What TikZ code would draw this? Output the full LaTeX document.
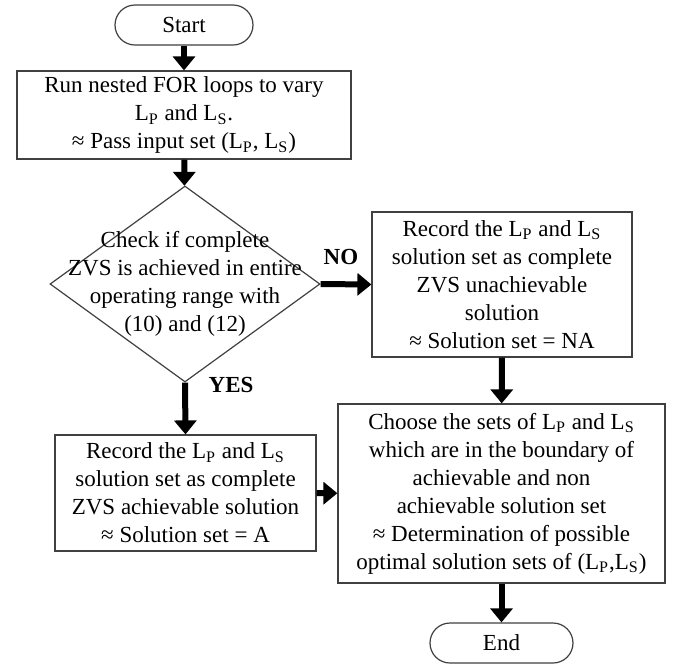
\documentclass[tikz,border=0pt]{standalone}
\usepackage{fontspec}
\setmainfont{Liberation Serif}[Ligatures=TeX]
\usetikzlibrary{arrows.meta,shapes.geometric}
\newcommand{\LP}{L\textsubscript{P}}
\newcommand{\LS}{L\textsubscript{S}}
\begin{document}
\begin{tikzpicture}[x=0.5pt,y=-0.5pt,
  every node/.style={font=\fontsize{11.5}{14}\selectfont},
  box/.style={draw=black!75,line width=0.6pt,fill=white,align=center,inner sep=0pt},
  term/.style={box,rounded corners=10pt,minimum height=20pt},
  pfeil/.style={line width=3pt,-{Triangle[length=7pt,width=11pt]}}]
  \useasboundingbox (0,0) rectangle (676,666);
  % Start
  \node[term,minimum width=69pt] (start) at (184,25) {Start};
  % Schleife
  \node[box,minimum width=167pt,minimum height=44pt] (loop) at (184,115)
    {Run nested FOR loops to vary\\ \LP{} and \LS.\\ ≈ Pass input set (\LP, \LS)};
  % Abfrage
  \node[draw=black!75,line width=0.6pt,diamond,minimum width=135pt,minimum height=98pt,inner sep=0pt] (check) at (185,284) {};
  \node[align=center] (checktxt) at (check.center)
    {Check if complete\\ ZVS is achieved in entire\\ operating range with\\ (10) and (12)};
  % nicht erreichbar
  \node[box,minimum width=130pt,minimum height=72.5pt] (na) at (502,284.5)
    {Record the \LP{} and \LS\\ solution set as complete\\ ZVS unachievable\\ solution\\ ≈ Solution set = NA};
  % erreichbar
  \node[box,minimum width=130.5pt,minimum height=58pt] (ok) at (185.5,493)
    {Record the \LP{} and \LS\\ solution set as complete\\ ZVS achievable solution\\ ≈ Solution set = A};
  % Auswahl
  \node[box,minimum width=163.5pt,minimum height=89.5pt] (pick) at (501.5,493.5)
    {Choose the sets of \LP{} and \LS\\ which are in the boundary of\\ achievable and non\\ achievable solution set\\ ≈ Determination of possible\\ optimal solution sets of (\LP,\LS)};
  % Ende
  \node[term,minimum width=71.5pt] (end) at (501.5,643) {End};
  % Pfeile
  \draw[pfeil] (start) -- (loop);
  \draw[pfeil] (loop) -- (check);
  \draw[pfeil] (check.east) -- (na.west) node[pos=0.4,above=5pt] {\textbf{NO}};
  \draw[pfeil] (check.south) -- (ok.north) node[pos=0.05,right=7pt] {\textbf{YES}};
  \draw[pfeil] (na) -- (pick);
  \draw[pfeil] (ok) -- (pick);
  \draw[pfeil] (pick) -- (end);
\end{tikzpicture}
\end{document}
